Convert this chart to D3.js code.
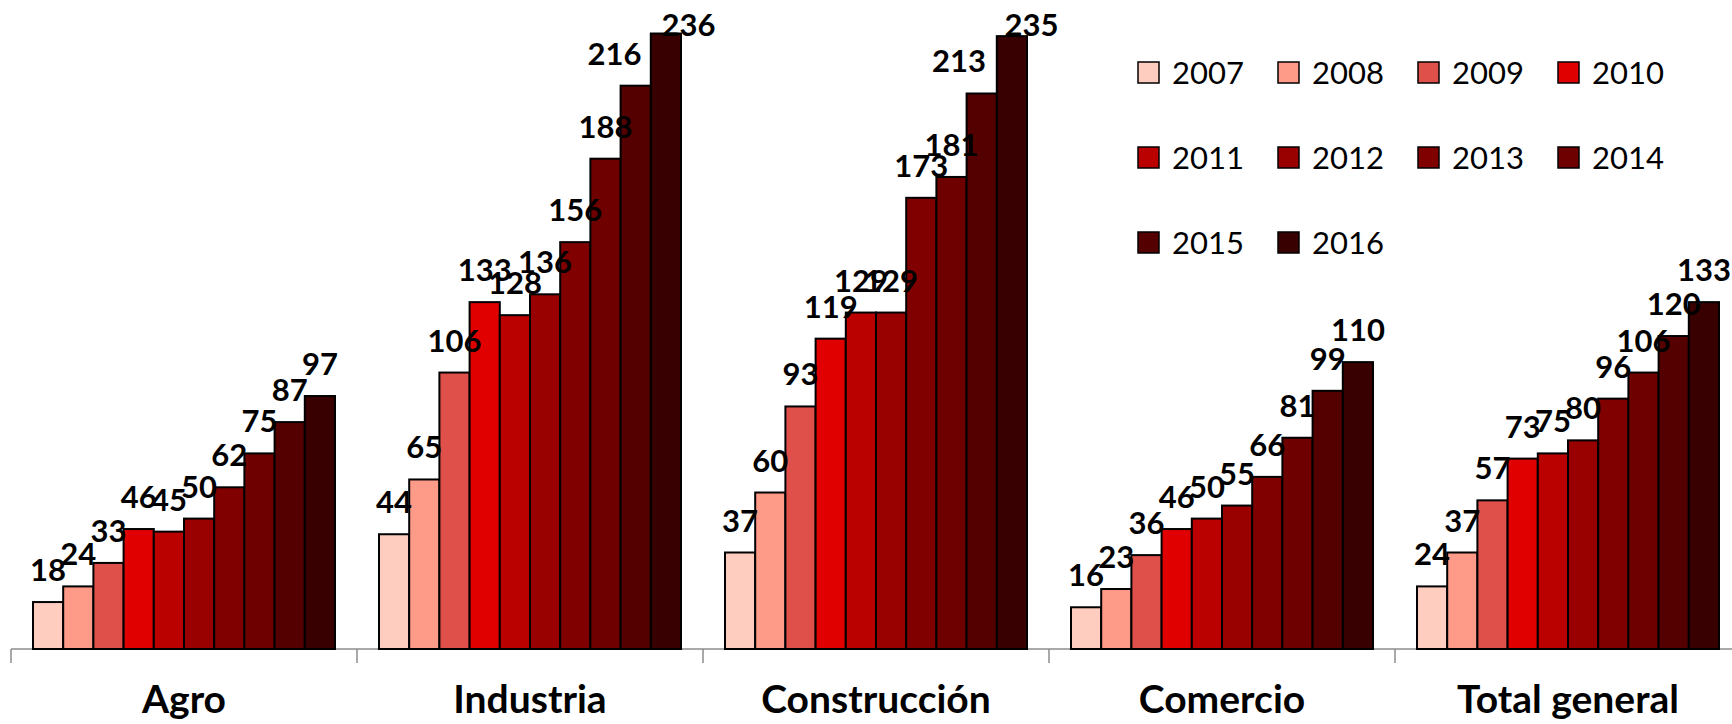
<!DOCTYPE html>
<html lang="es">
<head>
    <meta charset="UTF-8">
    <title>Sectores 2007-2016</title>
    <style>
        body {
            margin: 0;
            background: #fff;
        }

        .value-label {
            font-family: Lato, 'Open Sans', sans-serif;
            font-weight: bold;
            font-size: 31px;
            fill: #000;
        }

        .cat-label {
            font-family: Lato, 'Open Sans', sans-serif;
            font-weight: bold;
            font-size: 39px;
            fill: #000;
        }

        .legend-label {
            font-family: Lato, 'Open Sans', sans-serif;
            font-size: 31px;
            fill: #000;
        }
    </style>
</head>
<body>
    <div id="chart"></div>

    <script src="https://d3js.org/d3.v7.min.js"></script>
    <script>
        const categories = ["Agro", "Industria", "Construcción", "Comercio", "Total general"];
        const years = ["2007", "2008", "2009", "2010", "2011", "2012", "2013", "2014", "2015", "2016"];

        // one array per category, 2007..2016
        const agro = [18, 24, 33, 46, 45, 50, 62, 75, 87, 97];
        const industria = [44, 65, 106, 133, 128, 136, 156, 188, 216, 236];
        const construccion = [37, 60, 93, 119, 129, 129, 173, 181, 213, 235];
        const comercio = [16, 23, 36, 46, 50, 55, 66, 81, 99, 110];
        const totalGeneral = [24, 37, 57, 73, 75, 80, 96, 106, 120, 133];

        const yearColors = ["#fecdc0", "#fd9a88", "#e0504a", "#e00000", "#bb0000",
                            "#990000", "#800000", "#6e0000", "#550000", "#380000"];

        const values = [agro, industria, construccion, comercio, totalGeneral];

        const width = 1732;
        const height = 724;
        const baseY = 649;

        const svg = d3.select('#chart')
            .append('svg')
            .attr('width', width)
            .attr('height', height);

        const x0 = d3.scaleBand()
            .domain(categories)
            .range([11, 11 + 346 * categories.length]);

        const x1 = d3.scaleBand()
            .domain(years)
            .range([22, 324]);

        const y = d3.scaleLinear()
            .domain([0, 250])
            .range([baseY, -3]);

        const color = d3.scaleOrdinal()
            .domain(years)
            .range(yearColors);

        // data labels that had been dragged aside in the original
        const labelNudge = {
            "Industria|2015": -0.7,
            "Industria|2016": 0.75,
            "Construcción|2015": -0.75,
            "Construcción|2016": 0.65
        };

        const rows = [];
        categories.forEach((c, i) => {
            years.forEach((yr, j) => {
                rows.push({ cat: c, year: yr, value: values[i][j] });
            });
        });

        // axis line + category separators
        const xAxis = d3.axisBottom(x0)
            .tickSize(0)
            .tickFormat("");

        const axisG = svg.append('g')
            .attr('transform', `translate(0, ${baseY})`)
            .call(xAxis);
        axisG.select('.domain')
            .attr('stroke', '#8c8c8c')
            .attr('stroke-width', 1.5)
            .attr('d', `M${x0.range()[0]},0H${width}`);

        axisG.selectAll('.sep')
            .data(categories)
            .enter()
            .append('line')
            .attr('class', 'sep')
            .attr('x1', d => x0(d))
            .attr('x2', d => x0(d))
            .attr('y1', 0)
            .attr('y2', 14)
            .attr('stroke', '#8c8c8c')
            .attr('stroke-width', 1.5);

        // bars
        svg.selectAll('.bar')
            .data(rows)
            .enter()
            .append('rect')
            .attr('class', 'bar')
            .attr('x', d => x0(d.cat) + x1(d.year))
            .attr('y', d => y(d.value))
            .attr('width', x1.bandwidth())
            .attr('height', d => baseY - y(d.value))
            .attr('fill', d => color(d.year))
            .attr('stroke', '#000')
            .attr('stroke-width', 2);

        // value labels
        svg.selectAll('.value-label')
            .data(rows)
            .enter()
            .append('text')
            .attr('class', 'value-label')
            .attr('text-anchor', 'middle')
            .attr('x', d => x0(d.cat) + x1(d.year) + x1.bandwidth() / 2
                + (labelNudge[d.cat + "|" + d.year] || 0) * x1.bandwidth())
            .attr('y', d => Math.max(y(d.value) - 21, 36))
            .text(d => d.value);

        // category labels
        svg.selectAll('.cat-label')
            .data(categories)
            .enter()
            .append('text')
            .attr('class', 'cat-label')
            .attr('text-anchor', 'middle')
            .attr('x', d => x0(d) + x0.bandwidth() / 2)
            .attr('y', 713)
            .text(d => d);

        // legend, 4 per row
        const legend = svg.append('g')
            .attr('transform', 'translate(1138, 0)');

        const item = legend.selectAll('.legend-item')
            .data(years)
            .enter()
            .append('g')
            .attr('class', 'legend-item')
            .attr('transform', (d, i) => `translate(${(i % 4) * 140}, ${84 + Math.floor(i / 4) * 85})`);

        item.append('rect')
            .attr('x', 0)
            .attr('y', -22)
            .attr('width', 21)
            .attr('height', 21)
            .attr('fill', d => color(d))
            .attr('stroke', '#000')
            .attr('stroke-width', 1.5);

        item.append('text')
            .attr('class', 'legend-label')
            .attr('x', 34)
            .attr('y', 0)
            .text(d => d);
    </script>
</body>
</html>
